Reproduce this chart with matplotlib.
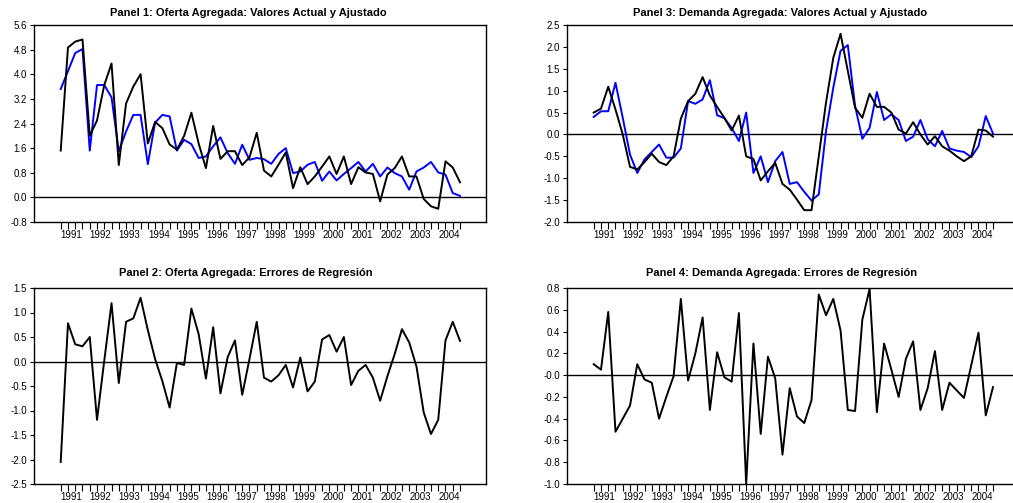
import numpy as np
import matplotlib
matplotlib.use("Agg")
import matplotlib.pyplot as plt

plt.rcParams['font.family'] = ['Liberation Sans', 'DejaVu Sans']

# quarterly data 1991Q1 - 2004Q4
years = list(range(1991, 2005))

oferta_actual = [1.52, 4.87, 5.06, 5.13, 2.0, 2.5, 3.65, 4.35, 1.05, 3.05,
                 3.6, 4.0, 1.75, 2.45, 2.25, 1.72, 1.55, 2.0, 2.75, 1.75,
                 0.95, 2.32, 1.25, 1.5, 1.5, 1.05, 1.3, 2.1, 0.87, 0.68,
                 1.06, 1.46, 0.30, 0.98, 0.43, 0.68, 1.0, 1.33, 0.76, 1.33,
                 0.43, 0.98, 0.81, 0.76, -0.13, 0.74, 0.95, 1.33, 0.68, 0.68,
                 -0.05, -0.29, -0.37, 1.17, 0.97, 0.49]
oferta_ajust = [3.52, 4.1, 4.69, 4.82, 1.52, 3.65, 3.65, 3.25, 1.5, 2.14,
                2.68, 2.68, 1.08, 2.43, 2.68, 2.63, 1.52, 1.87, 1.73, 1.28,
                1.33, 1.66, 1.95, 1.44, 1.09, 1.71, 1.22, 1.28, 1.24, 1.09,
                1.41, 1.60, 0.79, 0.84, 1.06, 1.15, 0.54, 0.84, 0.55, 0.76,
                0.95, 1.15, 0.84, 1.09, 0.68, 0.97, 0.79, 0.68, 0.25, 0.84,
                0.97, 1.15, 0.81, 0.74, 0.14, 0.05]
oferta_resid = [-2.05, 0.78, 0.35, 0.31, 0.50, -1.19, 0.02, 1.19, -0.44, 0.81,
                0.88, 1.30, 0.64, 0.05, -0.40, -0.94, -0.03, -0.07, 1.08, 0.56,
                -0.35, 0.70, -0.65, 0.09, 0.43, -0.68, 0.05, 0.81, -0.33, -0.41,
                -0.28, -0.07, -0.53, 0.08, -0.61, -0.41, 0.45, 0.54, 0.20, 0.50,
                -0.48, -0.19, -0.07, -0.33, -0.80, -0.30, 0.15, 0.66, 0.39, -0.10,
                -1.04, -1.48, -1.19, 0.43, 0.81, 0.42]

demanda_actual = [0.50, 0.59, 1.09, 0.57, 0.0, -0.74, -0.80, -0.63, -0.44, -0.63,
                  -0.70, -0.50, 0.36, 0.76, 0.93, 1.31, 0.89, 0.63, 0.38, 0.09,
                  0.43, -0.50, -0.56, -1.05, -0.84, -0.65, -1.13, -1.26, -1.49, -1.73,
                  -1.73, -0.50, 0.73, 1.75, 2.30, 1.45, 0.61, 0.38, 0.93, 0.63,
                  0.63, 0.50, 0.11, 0.02, 0.28, 0.0, -0.23, -0.04, -0.27, -0.37,
                  -0.50, -0.61, -0.50, 0.11, 0.09, -0.05]
demanda_ajust = [0.40, 0.53, 0.53, 1.18, 0.38, -0.46, -0.88, -0.57, -0.40, -0.23,
                 -0.53, -0.53, -0.32, 0.76, 0.70, 0.80, 1.24, 0.44, 0.37, 0.15,
                 -0.15, 0.50, -0.88, -0.50, -1.09, -0.61, -0.40, -1.13, -1.09, -1.31,
                 -1.51, -1.37, 0.08, 1.07, 1.91, 2.04, 0.65, -0.10, 0.15, 0.97,
                 0.33, 0.46, 0.33, -0.15, -0.05, 0.33, -0.11, -0.27, 0.08, -0.32,
                 -0.37, -0.40, -0.52, -0.27, 0.42, 0.02]
demanda_resid = [0.10, 0.05, 0.58, -0.52, -0.40, -0.28, 0.10, -0.04, -0.07, -0.40,
                 -0.20, -0.01, 0.70, -0.05, 0.20, 0.53, -0.32, 0.21, -0.02, -0.06,
                 0.57, -1.0, 0.29, -0.54, 0.17, -0.03, -0.73, -0.12, -0.38, -0.44,
                 -0.23, 0.74, 0.55, 0.70, 0.41, -0.32, -0.33, 0.51, 0.79, -0.34,
                 0.29, 0.05, -0.20, 0.15, 0.31, -0.32, -0.12, 0.22, -0.32, -0.07,
                 -0.14, -0.21, 0.09, 0.39, -0.37, -0.11]

yt1 = [-0.8, 0.0, 0.8, 1.6, 2.4, 3.2, 4.0, 4.8, 5.6]
yt2 = [-2.5, -2.0, -1.5, -1.0, -0.5, 0.0, 0.5, 1.0, 1.5]
yt3 = [-2.0, -1.5, -1.0, -0.5, 0.0, 0.5, 1.0, 1.5, 2.0, 2.5]
yt4 = [-1.0, -0.8, -0.6, -0.4, -0.2, 0.0, 0.2, 0.4, 0.6, 0.8]
yl4 = ['-1.0', '-0.8', '-0.6', '-0.4', '-0.2', '-0.0', '0.2', '0.4', '0.6', '0.8']

titles = ["Panel 1: Oferta Agregada: Valores Actual y Ajustado",
          "Panel 2: Oferta Agregada: Errores de Regresión",
          "Panel 3: Demanda Agregada: Valores Actual y Ajustado",
          "Panel 4: Demanda Agregada: Errores de Regresión"]

W, H = 1013, 503
fig = plt.figure(figsize=(W / 100, H / 100), dpi=100)


def make_ax(left, top, bottom, width=452):
    return fig.add_axes([left / W, (H - bottom) / H, width / W, (bottom - top) / H])


def style(ax, yt, ylabels=None):
    n = len(oferta_actual)
    ax.set_xlim(-3.68, 58.58)
    ax.set_ylim(yt[0], yt[-1])
    ax.set_yticks(yt)
    if ylabels is None:
        ylabels = ['%.1f' % v for v in yt]
    ax.set_yticklabels(ylabels)
    ax.set_xticks(np.arange(len(years)) * 4 + 1.5)
    ax.set_xticklabels([str(y) for y in years])
    ax.set_xticks(np.arange(n), minor=True)
    ax.tick_params(axis='x', which='major', length=0, pad=6, labelsize=7)
    ax.tick_params(axis='x', which='minor', length=5, width=0.8, direction='out')
    ax.tick_params(axis='y', length=3, width=0.8, direction='out', labelsize=7, pad=2)
    for s in ax.spines.values():
        s.set_linewidth(1.0)
    ax.axhline(0, color='black', lw=1.0, zorder=1)


x = np.arange(len(oferta_actual))

ax1 = make_ax(34, 25, 222)
ax1.plot(x, oferta_actual, color='black', lw=1.4, zorder=3)
ax1.plot(x, oferta_ajust, color='#0000ff', lw=1.4, zorder=2)
style(ax1, yt1)

ax2 = make_ax(34, 288, 484)
ax2.plot(x, oferta_resid, color='black', lw=1.4, zorder=3)
style(ax2, yt2)

ax3 = make_ax(567, 25, 222)
ax3.plot(x, demanda_actual, color='black', lw=1.4, zorder=3)
ax3.plot(x, demanda_ajust, color='#0000ff', lw=1.4, zorder=2)
style(ax3, yt3)

ax4 = make_ax(567, 288, 484)
ax4.plot(x, demanda_resid, color='black', lw=1.4, zorder=3)
style(ax4, yt4, yl4)

title_pos = [(248, 13), (246, 273), (780, 13), (782, 273)]
for t, (tx, ty) in zip(titles, title_pos):
    fig.text(tx / W, 1 - ty / H, t, ha='center', va='center',
             fontsize=8, fontweight='bold')

fig.savefig('out.png', dpi=100)
